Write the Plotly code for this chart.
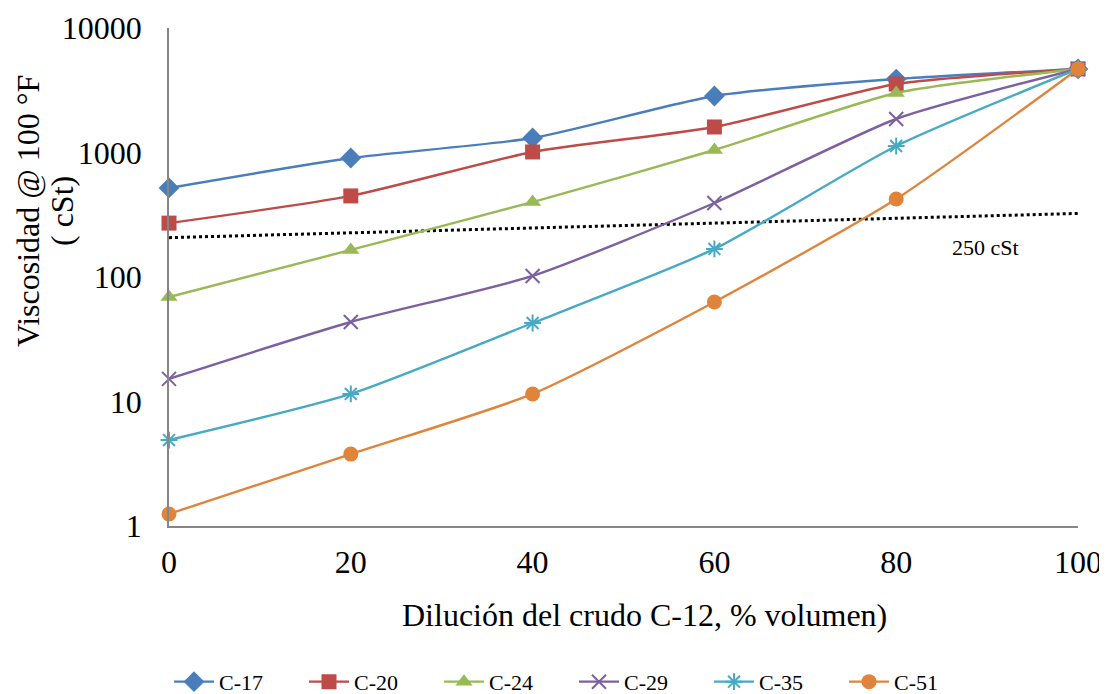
import plotly.graph_objects as go

dilution = [0, 20, 40, 60, 80, 100]
c17 = [519, 903, 1307, 2844, 3890, 4690]
c20 = [271, 448, 1010, 1603, 3548, 4690]
c24 = [69, 165, 400, 1047, 3006, 4690]
c29 = [15.2, 43.5, 102, 393, 1858, 4690]
c35 = [4.9, 11.5, 42.7, 168, 1128, 4690]
c51 = [1.25, 3.78, 11.5, 63, 423, 4690]

ref_x = [0, 100]
ref_y = [207, 324]
ref_label = "250 cSt"

series_names = ["C-17", "C-20", "C-24", "C-29", "C-35", "C-51"]
series_values = [c17, c20, c24, c29, c35, c51]
colors = ["#4A7EBB", "#BE4B48", "#98B954", "#7D60A0", "#46AAC5", "#E0843C"]
symbols = ["diamond", "square", "triangle-up", "x-thin-open", "asterisk-open", "circle"]
sizes = [16, 15, 15, 14, 14, 15]

y_ticks = [1, 10, 100, 1000, 10000]
x_ticks = [0, 20, 40, 60, 80, 100]

FONT = "Liberation Serif, Times New Roman, serif"
FS = 32

fig = go.Figure()

fig.add_trace(go.Scatter(
    x=ref_x, y=ref_y, mode="lines",
    line=dict(color="black", width=3, dash="dot"),
    showlegend=False, hoverinfo="skip"))

for name, vals, col, sym, sz in zip(series_names, series_values, colors, symbols, sizes):
    open_sym = sym.endswith("open")
    fig.add_trace(go.Scatter(
        x=dilution, y=vals, name=name, mode="lines+markers",
        line=dict(color=col, width=2.4, shape="spline", smoothing=0.6),
        marker=dict(symbol=sym, size=sz, color=col,
                    line=dict(color=col, width=2 if open_sym else 0)),
        cliponaxis=False))

fig.add_annotation(x=89.8, y=2.233, xref="x", yref="y", text=ref_label,
                   showarrow=False, font=dict(family=FONT, size=22, color="black"))

# y-axis title, two lines (page coords: centres x=28 and x=62, y=211)
fig.add_annotation(x=(28 - 169) / 909, y=(526 - 211) / 498, xref="paper", yref="paper",
                   text="Viscosidad @ 100 °F", textangle=-90, xanchor="center", yanchor="middle",
                   showarrow=False, borderpad=0, font=dict(family=FONT, size=FS, color="black"))
fig.add_annotation(x=(62 - 169) / 909, y=(526 - 211) / 498, xref="paper", yref="paper",
                   text="( cSt)", textangle=-90, xanchor="center", yanchor="middle",
                   showarrow=False, borderpad=0, font=dict(family=FONT, size=FS, color="black"))

# x-axis title (page centre x=644, y=615)
fig.add_annotation(x=(644 - 169) / 909, y=(526 - 615) / 498, xref="paper", yref="paper",
                   text="Dilución del crudo C-12, % volumen)", xanchor="center", yanchor="middle",
                   showarrow=False, font=dict(family=FONT, size=FS, color="black"))

fig.update_xaxes(
    range=[0, 100], tickvals=x_ticks, ticktext=[str(v) for v in x_ticks],
    showgrid=False, zeroline=False, showline=True, linecolor="#868686", linewidth=1.5,
    ticks="", ticklabelstandoff=7, ticklabeloverflow="allow",
    tickfont=dict(family=FONT, size=FS, color="black"))

fig.update_yaxes(
    type="log", range=[0, 4], tickvals=y_ticks, ticktext=[str(v) for v in y_ticks],
    showgrid=False, zeroline=False, showline=True, linecolor="#868686", linewidth=1.5,
    ticks="", ticklabelstandoff=19, ticklabeloverflow="allow",
    tickfont=dict(family=FONT, size=FS, color="black"))

fig.update_layout(
    width=1099, height=686,
    margin=dict(l=161, r=29, t=20, b=168, autoexpand=False),
    paper_bgcolor="white", plot_bgcolor="white",
    font=dict(family=FONT, color="black"),
    legend=dict(orientation="h", x=0.0, xanchor="left", y=-0.313, yanchor="middle",
                entrywidth=80, font=dict(family=FONT, size=22, color="black"),
                itemwidth=40, tracegroupgap=0),
)

fig.write_html("out.html")
